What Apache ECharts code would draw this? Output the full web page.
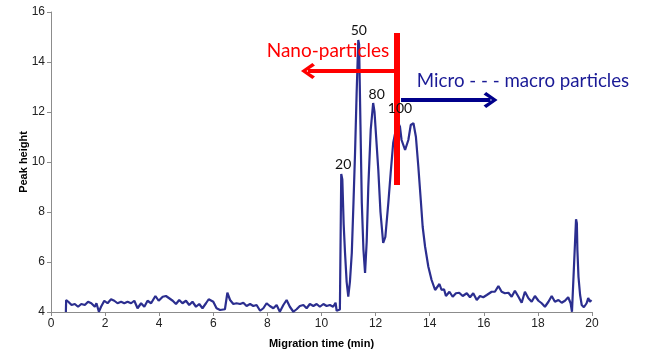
<!DOCTYPE html>
<html><head><meta charset="utf-8">
<script src="https://cdn.jsdelivr.net/npm/echarts@6/dist/echarts.min.js"></script>
<style>html,body{margin:0;padding:0;background:#fff}#c{width:645px;height:356px}</style>
</head><body><div id="c"></div>
<script>
// Migration time (min)
const times = [0.55,0.56,0.64,0.76,0.88,1.0,1.12,1.25,1.37,1.49,1.62,1.68,1.77,1.85,1.97,2.09,2.22,2.34,2.46,2.59,2.71,2.83,2.96,3.08,3.2,3.33,3.45,3.57,3.7,3.86,3.98,4.13,4.25,4.37,4.5,4.62,4.74,4.86,4.99,5.11,5.23,5.36,5.48,5.6,5.73,5.83,6.0,6.12,6.25,6.43,6.52,6.62,6.74,6.86,6.99,7.11,7.23,7.36,7.48,7.6,7.73,7.85,7.97,8.09,8.22,8.34,8.46,8.59,8.71,8.83,8.96,9.08,9.2,9.33,9.45,9.57,9.7,9.82,9.94,10.07,10.19,10.31,10.43,10.52,10.56,10.68,10.73,10.77,10.82,10.87,10.93,10.99,11.05,11.12,11.18,11.24,11.3,11.36,11.39,11.44,11.49,11.55,11.61,11.67,11.73,11.82,11.91,11.96,12.02,12.1,12.18,12.28,12.36,12.47,12.56,12.65,12.75,12.84,12.9,12.96,13.09,13.21,13.3,13.4,13.49,13.58,13.67,13.74,13.83,13.95,14.07,14.2,14.23,14.36,14.44,14.53,14.6,14.73,14.85,14.97,15.09,15.22,15.37,15.49,15.61,15.74,15.86,15.98,16.11,16.29,16.41,16.54,16.66,16.78,16.91,17.03,17.15,17.28,17.4,17.52,17.65,17.77,17.89,18.02,18.14,18.26,18.39,18.51,18.63,18.76,18.88,19.0,19.12,19.21,19.26,19.33,19.41,19.44,19.46,19.5,19.56,19.62,19.7,19.8,19.86,19.92,19.98];
// Peak height
const heights = [4.0,4.48,4.41,4.28,4.32,4.21,4.32,4.28,4.41,4.35,4.21,4.35,4.01,4.21,4.45,4.35,4.51,4.45,4.35,4.41,4.35,4.41,4.35,4.45,4.15,4.35,4.21,4.45,4.35,4.64,4.45,4.61,4.64,4.55,4.45,4.32,4.48,4.35,4.45,4.28,4.41,4.21,4.32,4.15,4.35,4.51,4.41,4.15,4.08,4.11,4.77,4.48,4.32,4.35,4.32,4.37,4.24,4.32,4.24,4.28,4.05,4.15,4.35,4.24,4.15,4.28,4.01,4.28,4.48,4.21,4.01,4.11,4.24,4.28,4.15,4.32,4.24,4.32,4.21,4.32,4.24,4.28,4.21,4.37,4.05,4.1,9.52,9.3,7.5,6.36,5.2,4.61,5.2,6.36,8.3,10.36,12.8,14.88,14.7,11.5,8.36,6.5,5.56,6.8,9.0,11.3,12.36,12.0,11.0,9.68,8.0,6.76,7.0,8.36,9.6,10.76,11.3,11.56,11.41,10.88,10.48,10.88,11.48,11.55,11.01,9.81,8.48,7.41,6.61,5.81,5.28,4.88,4.81,5.12,4.88,4.91,4.64,4.81,4.61,4.75,4.77,4.64,4.75,4.59,4.75,4.48,4.64,4.59,4.68,4.81,4.81,5.04,4.81,4.75,4.77,4.61,4.85,4.61,4.37,4.81,4.55,4.41,4.64,4.45,4.35,4.21,4.41,4.64,4.41,4.48,4.37,4.45,4.59,4.35,4.01,4.05,7.71,7.55,6.48,5.41,4.68,4.28,4.19,4.35,4.56,4.41,4.48];

const xTicks = [0,2,4,6,8,10,12,14,16,18,20];
const yTicks = [4,6,8,10,12,14,16];

// peak annotations
const peakLabels = ['20','50','80','100'];
const peakLabelX = [10.8,11.38,12.04,12.9];
const peakLabelY = [9.9,15.28,12.72,12.16];

// divider & arrows (data coordinates)
const dividerX = 12.79;
const dividerY = [9.08,15.16];
const nanoArrow = {y: 13.64, from: 12.79, to: 9.5};
const microArrow = {y: 12.48, from: 12.94, to: 16.25};
const nanoText = 'Nano-particles';
const nanoTextPos = [10.24, 14.44];
const microText = 'Micro - - - macro particles';
const microTextPos = [17.45, 13.24];

const chevron = 'path://M5,0 L10,7 L8.4,8.6 L5,3.4 L1.6,8.6 L0,7 Z';
const FONT = 'Liberation Sans, Arial, sans-serif';

const chart = echarts.init(document.getElementById('c'), null, {renderer:'canvas'});
const seriesData = times.map((t,i)=>[t, heights[i]]);

const mpData = peakLabels.map((s,i)=>({
  coord:[peakLabelX[i], peakLabelY[i]], value:s,
  label:{formatter:s, fontSize:14, color:'#111', fontFamily:'Lato, sans-serif'}
}));
mpData.push({coord:nanoTextPos, value:nanoText,
  label:{formatter:nanoText, fontSize:19, color:'#ff0000', fontFamily:'Lato, sans-serif'}});
mpData.push({coord:microTextPos, value:microText,
  label:{formatter:microText, fontSize:18.7, color:'#1a1a96', fontFamily:'Lato, sans-serif'}});

chart.setOption({
  animation:false,
  grid:{left:51, right:53, top:12, bottom:44, containLabel:false},
  xAxis:{
    type:'value', min:0, max:20, interval:2,
    name:'Migration time (min)', nameLocation:'middle', nameGap:26, nameMoveOverlap:false,
    nameTextStyle:{fontSize:11, fontWeight:'bold', color:'#000', fontFamily:FONT},
    axisLine:{show:true, lineStyle:{color:'#8c8c8c', width:1}},
    axisTick:{show:true, length:4, lineStyle:{color:'#8c8c8c'}},
    axisLabel:{fontSize:12, color:'#222', fontFamily:FONT, margin:6,
      formatter:v=> xTicks.includes(v) ? String(v) : ''},
    splitLine:{show:false}
  },
  yAxis:{
    type:'value', min:4, max:16, interval:2,
    name:'Peak height', nameLocation:'middle', nameGap:22, nameMoveOverlap:false,
    nameTextStyle:{fontSize:11, fontWeight:'bold', color:'#000', fontFamily:FONT},
    axisLine:{show:true, lineStyle:{color:'#8c8c8c', width:1}},
    axisTick:{show:true, length:4, lineStyle:{color:'#8c8c8c'}},
    axisLabel:{fontSize:12, color:'#222', fontFamily:FONT, margin:6,
      formatter:v=> yTicks.includes(v) ? String(v) : ''},
    splitLine:{show:false}
  },
  series:[{
    type:'line', data:seriesData, showSymbol:false, symbol:'none',
    lineStyle:{color:'#2b2e8f', width:2.2}, z:3,
    markLine:{
      silent:true, animation:false, label:{show:false},
      data:[
        [{coord:[dividerX, dividerY[0]], symbol:'none', lineStyle:{color:'#ff0000', width:6, type:'solid'}},
         {coord:[dividerX, dividerY[1]], symbol:'none'}],
        [{coord:[nanoArrow.from, nanoArrow.y], symbol:'none', lineStyle:{color:'#ff0000', width:4, type:'solid'}},
         {coord:[nanoArrow.to, nanoArrow.y], symbol:chevron, symbolSize:[16,14]}],
        [{coord:[microArrow.from, microArrow.y], symbol:'none', lineStyle:{color:'#00008b', width:4, type:'solid'}},
         {coord:[microArrow.to, microArrow.y], symbol:chevron, symbolSize:[16,14]}]
      ]
    },
    markPoint:{
      silent:true, animation:false, symbol:'circle', symbolSize:0,
      label:{show:true, position:'inside'},
      itemStyle:{color:'transparent'},
      data:mpData
    }
  }]
});
</script></body></html>
